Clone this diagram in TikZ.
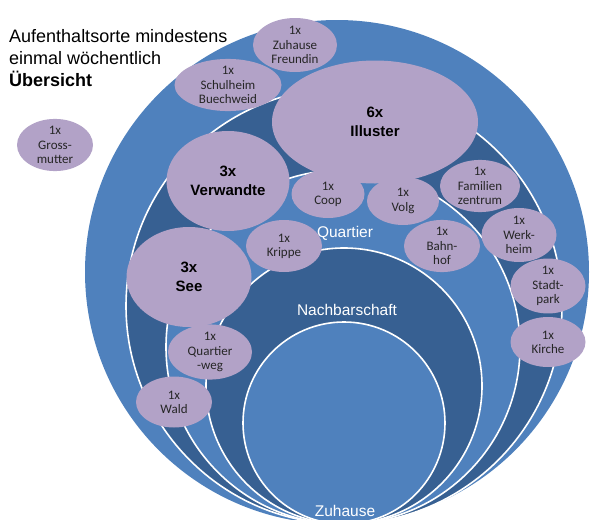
\documentclass[tikz,border=0pt]{standalone}
\usepackage{fontspec}
\setmainfont{Liberation Sans}
\newfontfamily\bubfont{Carlito}
\usetikzlibrary{shapes.geometric}
\definecolor{ringlite}{RGB}{79,129,189}
\definecolor{ringdark}{RGB}{55,96,146}
\definecolor{bubble}{RGB}{178,162,199}
\begin{document}
\begin{tikzpicture}[x=1pt,y=-1pt,
  ring/.style={circle,draw=white,line width=1.6pt,inner sep=0pt},
  bub/.style={ellipse,fill=bubble,inner sep=0pt,align=center,
    font=\bubfont\fontsize{13}{14.2}\selectfont,text=black!85},
  bigbub/.style={bub,text=black,font=\bfseries\fontsize{15}{19}\selectfont},
  ringlabel/.style={text=white,font=\fontsize{15.5}{18}\selectfont,inner sep=0pt}]
\useasboundingbox (0,0) rectangle (590,520);
\clip (0,0) rectangle (590,520);

% nested rings, all touching at the bottom
\node[ring,fill=ringlite,draw=none,minimum size=504pt] (c1) at (337,272) {};
\node[ring,fill=ringdark,minimum size=436pt] (c2) at (344,306) {};
\node[ring,fill=ringlite,minimum size=354pt] (c3) at (343,347) {};
\node[ring,fill=ringdark,minimum size=276pt] (c4) at (344,386) {};
\node[ring,fill=ringlite,minimum size=202pt] (c5) at (344,423) {};

% ring labels
\node[ringlabel] (lq) at (345,233) {Quartier};
\node[ringlabel] (ln) at (347,310) {Nachbarschaft};
\node[ringlabel] (lz) at (345,511) {Zuhause};

% title
\node[anchor=north west,align=left,inner sep=0pt,
  font=\fontsize{18}{22}\selectfont] (title) at (9,29)
  {Aufenthaltsorte mindestens\\einmal wöchentlich\\\textbf{Übersicht}};

% places
\node[bub,minimum width=84pt,minimum height=54pt] (zf) at (295,45) {1x\\Zuhause\\Freundin};
\node[bub,minimum width=107pt,minimum height=51pt] (sb) at (228,85) {1x\\Schulheim\\Buechweid};
\node[bigbub,minimum width=206pt,minimum height=123pt] (il) at (375,122) {6x\\Illuster};
\node[bub,minimum width=76pt,minimum height=49pt] (gm) at (55,145) {1x\\Gross-\\mutter};
\node[bigbub,minimum width=123pt,minimum height=100pt] (vw) at (228,181) {3x\\Verwandte};
\node[bub,minimum width=73pt,minimum height=48pt] (co) at (328,194) {1x\\Coop};
\node[bub,minimum width=72pt,minimum height=48pt] (vo) at (403,201) {1x\\Volg};
\node[bub,minimum width=80pt,minimum height=52pt] (fz) at (480,186) {1x\\Familien\\zentrum};
\node[bub,minimum width=76pt,minimum height=52pt] (kr) at (284,246) {1x\\Krippe};
\node[bub,minimum width=76pt,minimum height=52pt] (bh) at (442,246) {1x\\Bahn-\\hof};
\node[bub,minimum width=75pt,minimum height=54pt] (wh) at (519,235) {1x\\Werk-\\heim};
\node[bigbub,minimum width=125pt,minimum height=100pt] (se) at (189,277) {3x\\See};
\node[bub,minimum width=75pt,minimum height=52pt] (sp) at (548,286) {1x\\Stadt-\\park};
\node[bub,minimum width=84pt,minimum height=51pt] (qw) at (210,352) {1x\\Quartier\\-weg};
\node[bub,minimum width=75pt,minimum height=50pt] (ki) at (548,342) {1x\\Kirche};
\node[bub,minimum width=76pt,minimum height=51pt] (wa) at (174,402) {1x\\Wald};
\end{tikzpicture}
\end{document}
